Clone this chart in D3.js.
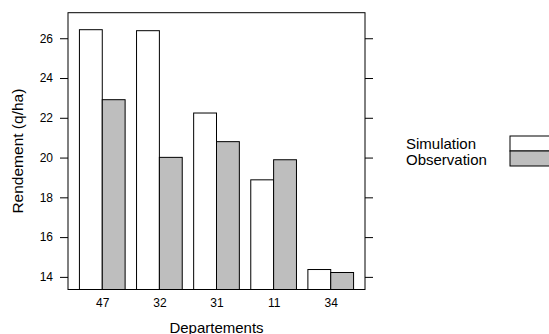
<!DOCTYPE html>
<html>
<head>
<meta charset="utf-8">
<script src="https://cdn.jsdelivr.net/npm/d3@7"></script>
<style>
  html, body { margin: 0; padding: 0; background: #fff; }
  svg { display: block; font-family: "Liberation Sans", Arial, Helvetica, sans-serif; }
</style>
</head>
<body>
<svg id="chart" width="549" height="334"></svg>
<script>
const departements = ["47", "32", "31", "11", "34"];
const simulation = [26.43, 26.38, 22.24, 18.88, 14.37];
const observation = [22.91, 20.01, 20.80, 19.89, 14.22];
const seriesNames = ["Simulation", "Observation"];
const seriesColors = ["#ffffff", "#bebebe"];
const yTicks = [14, 16, 18, 20, 22, 24, 26];

const svg = d3.select("#chart");
const panel = { left: 68, right: 365, top: 12.7, bottom: 289.5 };

const allVals = simulation.concat(observation);
const lo = d3.min(allVals), hi = d3.max(allVals);
const ext = (hi - lo) * 0.07;
const y = d3.scaleLinear().domain([lo - ext, hi + ext]).range([panel.bottom, panel.top]);
const x = d3.scaleLinear().domain([0.4, departements.length + 0.6]).range([panel.left, panel.right]);

const series = [simulation, observation];
const barW = 0.4;

// bars
series.forEach((vals, si) => {
  svg.append("g").selectAll("rect").data(vals).join("rect")
    .attr("x", (d, i) => x(i + 1 - 0.4 + si * barW))
    .attr("width", (d, i) => x(i + 1 - 0.4 + (si + 1) * barW) - x(i + 1 - 0.4 + si * barW))
    .attr("y", d => y(d))
    .attr("height", d => panel.bottom - y(d))
    .attr("fill", seriesColors[si])
    .attr("stroke", "#000")
    .attr("stroke-width", 1);
});

// panel border
svg.append("rect")
  .attr("x", panel.left).attr("y", panel.top)
  .attr("width", panel.right - panel.left).attr("height", panel.bottom - panel.top)
  .attr("fill", "none").attr("stroke", "#000").attr("stroke-width", 1);

// left axis
const leftAxis = svg.append("g").attr("transform", `translate(${panel.left},0)`)
  .call(d3.axisLeft(y).tickValues(yTicks).tickSize(8).tickPadding(7).tickFormat(d3.format("d")));
leftAxis.select(".domain").remove();
leftAxis.selectAll("text").attr("font-size", 12).attr("fill", "#000").attr("font-family", "Liberation Sans, Arial, sans-serif");

// right axis
const rightAxis = svg.append("g").attr("transform", `translate(${panel.right},0)`)
  .call(d3.axisRight(y).tickValues(yTicks).tickSize(8).tickFormat(""));
rightAxis.select(".domain").remove();

// bottom labels
const bottomAxis = svg.append("g").attr("transform", `translate(0,${panel.bottom})`)
  .call(d3.axisBottom(x).tickValues(d3.range(1, departements.length + 1)).tickSize(0).tickPadding(8.5)
    .tickFormat(d => departements[d - 1]));
bottomAxis.select(".domain").remove();
bottomAxis.selectAll("text").attr("font-size", 12).attr("fill", "#000").attr("font-family", "Liberation Sans, Arial, sans-serif");

// axis titles
svg.append("text").attr("x", (panel.left + panel.right) / 2).attr("y", 332.5)
  .attr("text-anchor", "middle").attr("font-size", 15).text("Departements");
svg.append("text").attr("transform", `translate(23,${(panel.top + panel.bottom) / 2}) rotate(-90)`)
  .attr("text-anchor", "middle").attr("font-size", 15.5).text("Rendement (q/ha)");

// legend
const legend = svg.append("g");
seriesNames.forEach((name, i) => {
  legend.append("text").attr("x", 406).attr("y", 148.5 + i * 16.5)
    .attr("font-size", 15).text(name);
  legend.append("rect").attr("x", 510).attr("y", 136 + i * 15)
    .attr("width", 60).attr("height", 15)
    .attr("fill", seriesColors[i]).attr("stroke", "#000").attr("stroke-width", 1);
});
</script>
</body>
</html>
